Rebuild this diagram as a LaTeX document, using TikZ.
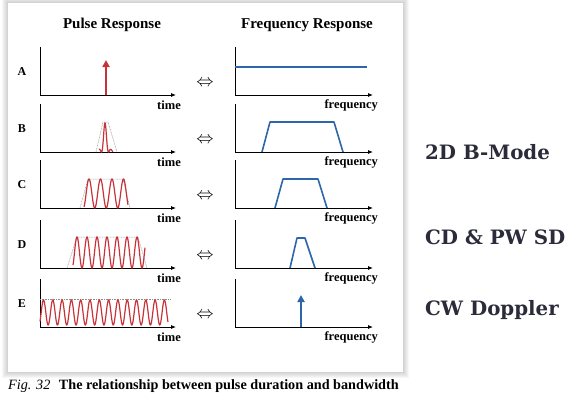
\documentclass[tikz,border=0pt]{standalone}
\usepackage{fontspec}
\setmainfont{Liberation Serif}
\newfontfamily\modefont{DejaVu Serif}
\usetikzlibrary{arrows.meta,positioning}
\definecolor{pulsered}{HTML}{C8333A}
\definecolor{specblue}{HTML}{2E66AA}
\definecolor{modetext}{HTML}{2B2B3A}
\tikzset{
  axisline/.style={line width=0.8pt, -{Latex[length=5pt,width=4pt]}},
  axislabel/.style={font=\bfseries\fontsize{12.5}{14}\selectfont, inner sep=0pt},
  rowlabel/.style={font=\bfseries\fontsize{12}{14}\selectfont, inner sep=0pt},
  coltitle/.style={font=\bfseries\fontsize{15}{17}\selectfont, inner sep=0pt},
  equiv/.style={font=\fontsize{17}{19}\selectfont, inner sep=0pt},
  envelope/.style={black!45, line width=0.5pt, dash pattern=on 0.8pt off 0.8pt},
  wave/.style={pulsered, line width=1.2pt},
  spectrum/.style={specblue, line width=1.6pt, line join=round},
  spike/.style={line width=2pt, -{Triangle[length=7pt,width=7pt]}},
  modelabel/.style={font=\modefont\bfseries\fontsize{19.8}{24}\selectfont, text=modetext, anchor=west, inner sep=0pt}
}
\begin{document}
\begin{tikzpicture}[x=1pt, y=-1pt]
\useasboundingbox (0,0) rectangle (580,404);
% panel with soft shadow
\foreach \s in {1,...,6}
  \fill[black, opacity=0.03] (8-\s,3-\s) rectangle (403+\s,372+\s);
\fill[white] (8,3) rectangle (403,372);

\node[coltitle] (pulsetitle) at (112,25) {Pulse Response};
\node[coltitle] (freqtitle) at (307,25) {Frequency Response};

% axes of the five rows
\foreach \lab/\b in {A/95,B/152,C/208,D/268,E/327}{
  \node[rowlabel] (lab\lab) at (22,\b-23) {\lab};
  \draw[axisline] (40,\b-48) -- (40,\b) -- (176,\b);
  \node[axislabel, anchor=east] (time\lab) at (181,\b+10) {time};
  \node[equiv] (eq\lab) at (205,\b-12) {$\Leftrightarrow$};
  \draw[axisline] (235,\b-48) -- (235,\b) -- (373,\b);
  \node[axislabel, anchor=east] (freq\lab) at (378,\b+10) {frequency};
}

% A: impulse <-> flat spectrum
\draw[spike, pulsered] (106,95) -- (106,60);
\draw[spectrum] (235,67) -- (367,67);

% B
\draw[envelope] (96,152) -- (103,122) -- (108,122) -- (117,152);
\draw[wave] plot[domain=99:113, samples=80]
  (\x, {152-29*exp(-((\x-105)/4)^2)*(1+cos((\x-105)/7*360))/2});
\draw[spectrum] (262,152) -- (270,122) -- (334,122) -- (343,152);

% C
\draw[envelope] (80,208) -- (88,179) -- (123,179) -- (130,208);
\draw[wave] plot[domain=84:128, samples=150, smooth]
  (\x, {208-14.5*(1+cos((\x-89)/11.5*360))});
\draw[spectrum] (275,208) -- (283,179) -- (318,179) -- (327,208);

% D
\draw[envelope] (67,268) -- (77,237) -- (138,237) -- (147,268);
\draw[wave] plot[domain=73:145, samples=220, smooth]
  (\x, {268-15.5*(1+cos((\x-77)/10*360))});
\draw[spectrum] (290,268) -- (297,238) -- (305,238) -- (315,268);

% E: continuous wave <-> single line
\draw[envelope] (40,299) -- (170,299);
\draw[wave] plot[domain=40:168, samples=400, smooth]
  (\x, {312.5-12.5*cos((\x-43.5)/9.3*360)});
\draw[spike, specblue] (301,327) -- (301,295);

% imaging modes
\node[modelabel] (bmode) at (425,152) {2D B-Mode};
\node[modelabel] (pwsd) at (425,237) {CD \& PW SD};
\node[modelabel] (cwd) at (425,310) {CW Doppler};

% caption
\node[anchor=west, inner sep=0pt, font=\fontsize{14.2}{16}\selectfont] (caption) at (8,386)
  {\textit{Fig. 32}\hspace{0.6em}\textbf{The relationship between pulse duration and bandwidth}};
\end{tikzpicture}
\end{document}
